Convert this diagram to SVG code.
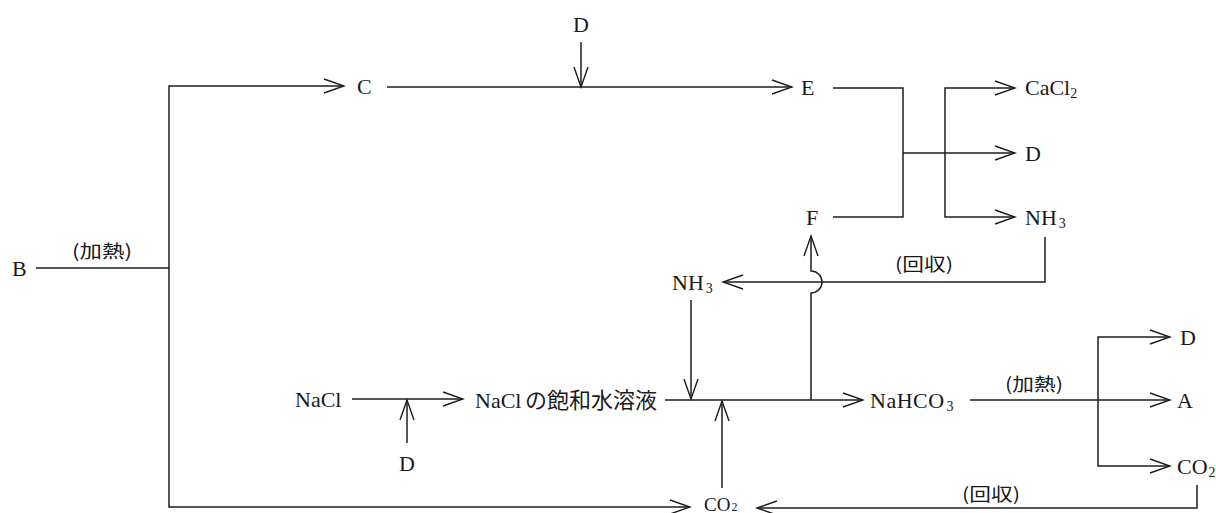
<svg xmlns="http://www.w3.org/2000/svg" width="1216" height="513" viewBox="0 0 1216 513">
<style>
.bg{fill:#ffffff}
.ln{fill:none;stroke:#1e1e1e;stroke-width:1.5}
.ar{marker-end:url(#arr)}
.t{font-family:"Liberation Serif","Noto Sans CJK JP",serif;font-size:22px;fill:#1a1a1a}
.j{font-family:"Noto Sans CJK JP","Liberation Serif",sans-serif;font-size:18px;fill:#1a1a1a}
.s{font-size:14px}
</style>
<defs>
<marker id="arr" markerUnits="userSpaceOnUse" markerWidth="24" markerHeight="18" viewBox="-22 -9 24 18" refX="0" refY="0" orient="auto">
<path d="M-20,-7 L0,0 L-20,7" fill="none" stroke="#1e1e1e" stroke-width="1.4"/>
</marker>
</defs>
<rect class="bg" x="0" y="0" width="1216" height="513"/>
<g id="connectors">
<path class="ln" d="M36,268 H169"/>
<path class="ln ar" d="M169,268 V86 H344"/>
<path class="ln ar" d="M169,268 V507 H690"/>
<path class="ln ar" d="M387,87 H792"/>
<path class="ln ar" d="M581,42 V87"/>
<path class="ln" d="M833,88 H903 V217 H833"/>
<path class="ln ar" d="M903,153 H1015"/>
<path class="ln ar" d="M945,153 V88 H1015"/>
<path class="ln ar" d="M945,153 V217 H1015"/>
<path class="ln ar" d="M1045,237 V282 H723"/>
<path class="ln ar" d="M811,400 V293 A11,11 0 0 0 811,271 V236"/>
<path class="ln ar" d="M691,300 V399"/>
<path class="ln ar" d="M665,400 H863"/>
<path class="ln ar" d="M722,488 V401"/>
<path class="ln ar" d="M352,399 H463"/>
<path class="ln ar" d="M407,443 V400"/>
<path class="ln ar" d="M970,400 H1170"/>
<path class="ln ar" d="M1098,400 V337 H1170"/>
<path class="ln ar" d="M1098,400 V466 H1170"/>
<path class="ln ar" d="M1197,485 V508 H757"/>
</g>
<g id="labels">
<text class="j" x="102" y="258" text-anchor="middle" textLength="60" lengthAdjust="spacingAndGlyphs">(加熱)</text>
<text class="j" x="924" y="271" text-anchor="middle" textLength="58" lengthAdjust="spacingAndGlyphs">(回収)</text>
<text class="j" x="1034" y="391" text-anchor="middle" textLength="58" lengthAdjust="spacingAndGlyphs">(加熱)</text>
<text class="j" x="991" y="501" text-anchor="middle" textLength="58" lengthAdjust="spacingAndGlyphs">(回収)</text>
</g>
<g id="node-B"><text class="t" x="12" y="276">B</text></g>
<g id="node-C"><text class="t" x="357" y="94">C</text></g>
<g id="node-D-top"><text class="t" x="573" y="32">D</text></g>
<g id="node-E"><text class="t" x="801" y="95">E</text></g>
<g id="node-F"><text class="t" x="806" y="225">F</text></g>
<g id="node-CaCl2"><text class="t" x="1025" y="95">CaCl<tspan class="s" dy="3">2</tspan></text></g>
<g id="node-D-mid"><text class="t" x="1025" y="161">D</text></g>
<g id="node-NH3-right"><text class="t" x="1025" y="225">NH<tspan class="s" dx="2" dy="3">3</tspan></text></g>
<g id="node-NH3-left"><text class="t" x="672" y="290">NH<tspan class="s" dx="2" dy="3">3</tspan></text></g>
<g id="node-NaCl"><text class="t" x="295" y="407">NaCl</text></g>
<g id="node-D-low"><text class="t" x="399" y="471">D</text></g>
<g id="node-NaCl-aq"><text class="t" x="475" y="408">NaCl<tspan x="525">の飽和水溶液</tspan></text></g>
<g id="node-NaHCO3"><text class="t" x="870" y="408" letter-spacing="0.5">NaHCO<tspan class="s" dx="2" dy="3">3</tspan></text></g>
<g id="node-D-right"><text class="t" x="1180" y="345">D</text></g>
<g id="node-A"><text class="t" x="1177" y="408">A</text></g>
<g id="node-CO2-right"><text class="t" x="1177" y="474">CO<tspan class="s" dx="1" dy="3">2</tspan></text></g>
<g id="node-CO2-bottom"><text class="t" x="704" y="511" style="font-size:19px">CO<tspan style="font-size:12px" dx="1">2</tspan></text></g>
</svg>
